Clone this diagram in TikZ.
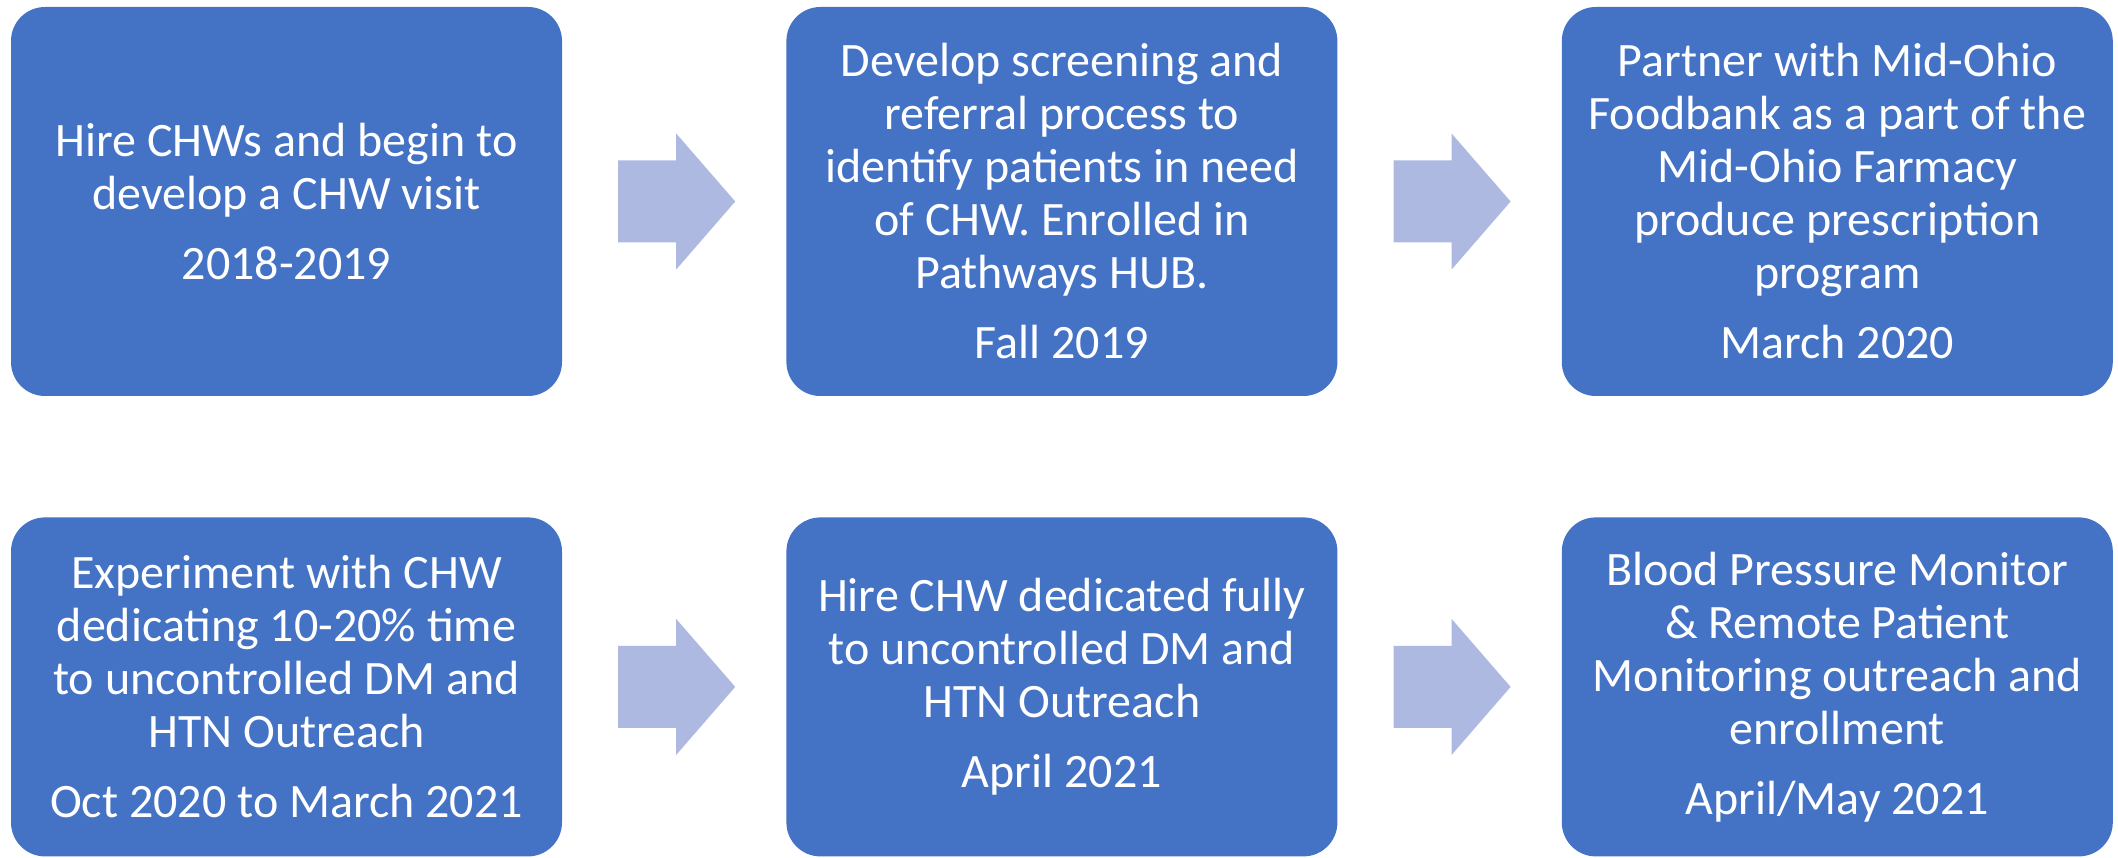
\documentclass[tikz,border=0pt]{standalone}
\usepackage{fontspec}
\setmainfont{Carlito}
\usetikzlibrary{positioning,calc}
\definecolor{chwblue}{RGB}{68,114,196}
\definecolor{steptint}{RGB}{173,185,224}

\begin{document}
\begin{tikzpicture}[x=1pt,y=-1pt,node distance=121pt and 224pt,
 box/.style={fill=chwblue,rounded corners=34pt,minimum width=551pt,align=center,
  text=white,inner sep=0pt,font=\fontsize{48}{53}\selectfont},
 tall/.style={box,minimum height=389pt},
 short/.style={box,minimum height=339pt},
 blockarr/.style={fill=steptint}]
\useasboundingbox (0,0) rectangle (2118,858);
\node[tall] (hire) at (286.5,201.5) {Hire CHWs and begin to\\develop a CHW visit\\[17pt]2018-2019};
\node[tall,right=of hire] (screen) {Develop screening and\\referral process to\\identify patients in need\\of CHW. Enrolled in\\Pathways HUB.\\[17pt]Fall 2019};
\node[tall,right=of screen] (farmacy) {Partner with Mid-Ohio\\Foodbank as a part of the\\Mid-Ohio Farmacy\\produce prescription\\program\\[17pt]March 2020};
\node[short,below=of hire] (pilot) {Experiment with CHW\\dedicating 10-20\% time\\to uncontrolled DM and\\HTN Outreach\\[17pt]Oct 2020 to March 2021};
\node[short,right=of pilot] (dedicated) {Hire CHW dedicated fully\\to uncontrolled DM and\\HTN Outreach\\[17pt]April 2021};
\node[short,right=of dedicated] (rpm) {Blood Pressure Monitor\\\& Remote Patient\\Monitoring outreach and\\enrollment\\[17pt]April/May 2021};
% block arrows centred in the gaps
\coordinate (a1) at ($(hire.east)!0.5!(screen.west)$);
\coordinate (a2) at ($(screen.east)!0.5!(farmacy.west)$);
\coordinate (a3) at ($(pilot.east)!0.5!(dedicated.west)$);
\coordinate (a4) at ($(dedicated.east)!0.5!(rpm.west)$);
\foreach \a in {a1,a2,a3,a4}
  \fill[blockarr] (\a) ++(-56,-41) -- ++(58,0) -- ++(0,-27) -- ++(59,68) -- ++(-59,68)
    -- ++(0,-27) -- ++(-58,0) -- cycle;
\end{tikzpicture}
\end{document}
